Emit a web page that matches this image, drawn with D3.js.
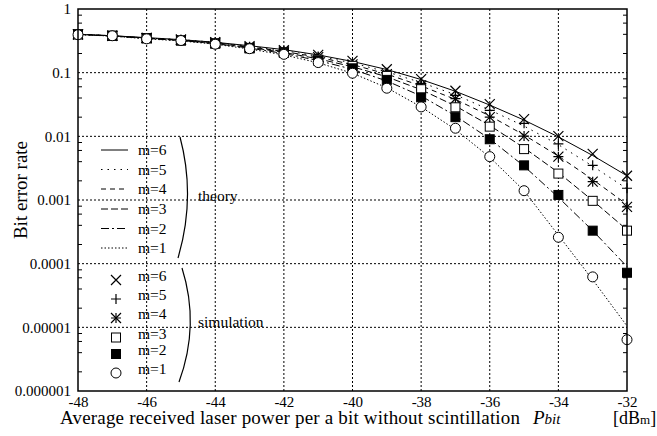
<!DOCTYPE html>
<html>
<head>
<meta charset="utf-8">
<script src="https://cdn.jsdelivr.net/npm/d3@7"></script>
<style>
  body { margin: 0; background: #fff; }
  svg { display: block; font-family: "Liberation Serif", "DejaVu Serif", serif; }
</style>
</head>
<body>
<svg id="chart"></svg>
<script>
"use strict";

// received power per bit [dBm]
const powers = [-48, -47, -46, -45, -44, -43, -42, -41, -40, -39, -38, -37, -36, -35, -34, -33, -32];

// simulation, bit error rate
const simM6 = [0.40, 0.38, 0.35, 0.33, 0.30, 0.26, 0.225, 0.19, 0.153, 0.113, 0.079, 0.052, 0.032, 0.0186, 0.0101, 0.0053, 0.0024];
const simM5 = [0.40, 0.38, 0.35, 0.33, 0.30, 0.255, 0.22, 0.18, 0.14, 0.10, 0.068, 0.044, 0.0255, 0.016, 0.0076, 0.0035, 0.00153];
const simM4 = [0.40, 0.38, 0.35, 0.33, 0.295, 0.25, 0.215, 0.175, 0.135, 0.095, 0.063, 0.039, 0.020, 0.0101, 0.0048, 0.00194, 0.00078];
const simM3 = [0.40, 0.38, 0.35, 0.32, 0.29, 0.245, 0.21, 0.16, 0.128, 0.089, 0.055, 0.0286, 0.0142, 0.0063, 0.0026, 0.00097, 0.00033];
const simM2 = [0.40, 0.38, 0.345, 0.32, 0.285, 0.24, 0.205, 0.155, 0.117, 0.077, 0.041, 0.020, 0.009, 0.0035, 0.0012, 0.00033, 0.000072];
const simM1 = [0.395, 0.38, 0.34, 0.32, 0.28, 0.238, 0.194, 0.144, 0.098, 0.057, 0.029, 0.0134, 0.0048, 0.0014, 0.00026, 0.000062, 0.0000064];

// theory, bit error rate
const thM6 = [0.40, 0.38, 0.355, 0.33, 0.30, 0.265, 0.23, 0.19, 0.150, 0.112, 0.078, 0.051, 0.031, 0.018, 0.0098, 0.0050, 0.0024];
const thM5 = [0.40, 0.38, 0.35, 0.33, 0.30, 0.26, 0.222, 0.182, 0.142, 0.103, 0.070, 0.045, 0.026, 0.0145, 0.0074, 0.0034, 0.0015];
const thM4 = [0.40, 0.38, 0.35, 0.325, 0.295, 0.255, 0.215, 0.175, 0.134, 0.095, 0.062, 0.038, 0.021, 0.0105, 0.0049, 0.0021, 0.00085];
const thM3 = [0.40, 0.38, 0.35, 0.32, 0.29, 0.25, 0.208, 0.165, 0.124, 0.086, 0.054, 0.030, 0.0148, 0.0066, 0.0027, 0.00098, 0.00034];
const thM2 = [0.40, 0.375, 0.345, 0.32, 0.285, 0.243, 0.20, 0.155, 0.113, 0.074, 0.043, 0.021, 0.0091, 0.0034, 0.0011, 0.00033, 0.00009];
const thM1 = [0.395, 0.375, 0.34, 0.315, 0.28, 0.235, 0.19, 0.143, 0.098, 0.058, 0.029, 0.0128, 0.0047, 0.0014, 0.00028, 0.000056, 0.0000105];

const legendLabels = ["m=6", "m=5", "m=4", "m=3", "m=2", "m=1"];
const xTicks = [-48, -46, -44, -42, -40, -38, -36, -34, -32];
const yTicks = [1, 0.1, 0.01, 0.001, 0.0001, 0.00001, 0.000001];
const yTickLabels = ["1", "0.1", "0.01", "0.001", "0.0001", "0.00001", "0.000001"];

const width = 657;
const height = 436;
const plotLeft = 78, plotRight = 627, plotTop = 9, plotBottom = 391;

const svg = d3.select("#chart").attr("width", width).attr("height", height);

const xScale = d3.scaleLinear().domain([-48, -32]).range([plotLeft, plotRight]);
const yScale = d3.scaleLog().domain([1e-6, 1]).range([plotBottom, plotTop]);

// grid
const grid = svg.append("g").attr("stroke", "#000").attr("stroke-width", 1).attr("stroke-dasharray", "2,2");
grid.selectAll("line.gx")
  .data(xTicks.slice(1, -1))
  .enter().append("line")
  .attr("x1", (d) => xScale(d)).attr("x2", (d) => xScale(d))
  .attr("y1", plotTop).attr("y2", plotBottom);
grid.selectAll("line.gy")
  .data(yTicks.slice(1, -1))
  .enter().append("line")
  .attr("x1", plotLeft).attr("x2", plotRight)
  .attr("y1", (d) => yScale(d)).attr("y2", (d) => yScale(d));

// minor ticks on the log axis
const minor = [];
yTicks.slice(1).forEach((d) => [2, 4, 6, 8].forEach((k) => minor.push(d * k)));
const tickG = svg.append("g").attr("stroke", "#000").attr("stroke-width", 1);
tickG.selectAll("line.ml").data(minor).enter().append("line")
  .attr("x1", plotLeft).attr("x2", plotLeft + 4)
  .attr("y1", (d) => yScale(d)).attr("y2", (d) => yScale(d));
tickG.selectAll("line.mr").data(minor).enter().append("line")
  .attr("x1", plotRight).attr("x2", plotRight - 4)
  .attr("y1", (d) => yScale(d)).attr("y2", (d) => yScale(d));

// axes
const xAxis = d3.axisBottom(xScale).tickValues(xTicks).tickSize(0)
  .tickFormat((d) => String(d));
const yAxis = d3.axisLeft(yScale).tickValues(yTicks).tickSize(0).tickPadding(7)
  .tickFormat((d, i) => yTickLabels[i]);

const gx = svg.append("g").attr("transform", `translate(0,${plotBottom})`).call(xAxis);
const gy = svg.append("g").attr("transform", `translate(${plotLeft},0)`).call(yAxis);
[gx, gy].forEach((g) => {
  g.select(".domain").remove();
  g.selectAll("text").attr("font-family", "Liberation Serif").attr("font-size", 15).attr("fill", "#000");
});
gx.selectAll("text").attr("y", 15.5).attr("dy", 0);

// theory curves
const dashes = [null, "1.5,5", "5,4", "7,3", "8,3,2,3", "1.5,2"];
const theory = [thM6, thM5, thM4, thM3, thM2, thM1];
const simulation = [simM6, simM5, simM4, simM3, simM2, simM1];

const line = d3.line()
  .x((d) => xScale(d[0]))
  .y((d) => yScale(d[1]));

svg.append("g").selectAll("path")
  .data(theory)
  .enter().append("path")
  .attr("d", (s) => line(s.map((v, i) => [powers[i], v])))
  .attr("fill", "none")
  .attr("stroke", "#000")
  .attr("stroke-width", 1)
  .attr("stroke-dasharray", (s, i) => dashes[i]);

// markers
const drawMarker = (g, kind, cx, cy) => {
  const r = 5;
  if (kind === 0 || kind === 2) {
    g.append("path").attr("d", `M${cx - r},${cy - r}L${cx + r},${cy + r}M${cx - r},${cy + r}L${cx + r},${cy - r}`)
      .attr("stroke", "#000").attr("stroke-width", 1.2);
  }
  if (kind === 1 || kind === 2) {
    g.append("path").attr("d", `M${cx - r},${cy}L${cx + r},${cy}M${cx},${cy - r}L${cx},${cy + r}`)
      .attr("stroke", "#000").attr("stroke-width", 1.2);
  }
  if (kind === 3 || kind === 4) {
    g.append("rect").attr("x", cx - 4.5).attr("y", cy - 4.5).attr("width", 9).attr("height", 9)
      .attr("fill", kind === 3 ? "#fff" : "#000").attr("stroke", "#000").attr("stroke-width", 1);
  }
  if (kind === 5) {
    g.append("circle").attr("cx", cx).attr("cy", cy).attr("r", 5)
      .attr("fill", "#fff").attr("stroke", "#000").attr("stroke-width", 1);
  }
};

const marks = svg.append("g");
simulation.forEach((s, k) => {
  s.forEach((v, i) => drawMarker(marks, k, xScale(powers[i]), yScale(v)));
});

// frame
svg.append("rect").attr("x", plotLeft).attr("y", plotTop)
  .attr("width", plotRight - plotLeft).attr("height", plotBottom - plotTop)
  .attr("fill", "none").attr("stroke", "#000").attr("stroke-width", 1.5);

// legend
const lg = svg.append("g").attr("font-size", 15.5).attr("fill", "#000");
const thRows = [150, 169.5, 189, 209, 228.5, 248];
const simRows = [280, 299, 318, 337.5, 354, 373];
legendLabels.forEach((lab, i) => {
  lg.append("line").attr("x1", 101).attr("x2", 128).attr("y1", thRows[i]).attr("y2", thRows[i])
    .attr("stroke", "#000").attr("stroke-width", 1).attr("stroke-dasharray", dashes[i]);
  lg.append("text").attr("x", 138).attr("y", thRows[i] + 5).text(lab);
  drawMarker(lg, i, 116, simRows[i]);
  lg.append("text").attr("x", 138).attr("y", simRows[i] + 1).text(lab);
});
lg.append("path").attr("d", "M180,137Q196,197 178,258").attr("fill", "none").attr("stroke", "#000").attr("stroke-width", 1.2);
lg.append("path").attr("d", "M182,268Q200,325 179,382").attr("fill", "none").attr("stroke", "#000").attr("stroke-width", 1.2);
lg.append("text").attr("x", 198).attr("y", 201).text("theory");
lg.append("text").attr("x", 198).attr("y", 327).text("simulation");

// axis titles
svg.append("text")
  .attr("transform", "translate(27,190) rotate(-90)")
  .attr("text-anchor", "middle")
  .attr("font-size", 19)
  .text("Bit error rate");

const titleSize = 19;
svg.append("text").attr("x", 60).attr("y", 424).attr("font-size", titleSize)
  .attr("textLength", 460).attr("lengthAdjust", "spacing")
  .text("Average received laser power per a bit without scintillation");
const pb = svg.append("text").attr("x", 533).attr("y", 424).attr("font-size", titleSize).attr("font-style", "italic");
pb.append("tspan").text("P");
pb.append("tspan").attr("font-size", 15).text("bit");
const unit = svg.append("text").attr("x", 613).attr("y", 424).attr("font-size", 18);
unit.append("tspan").text("[dB");
unit.append("tspan").attr("font-size", 13).text("m");
unit.append("tspan").text("]");
</script>
</body>
</html>
